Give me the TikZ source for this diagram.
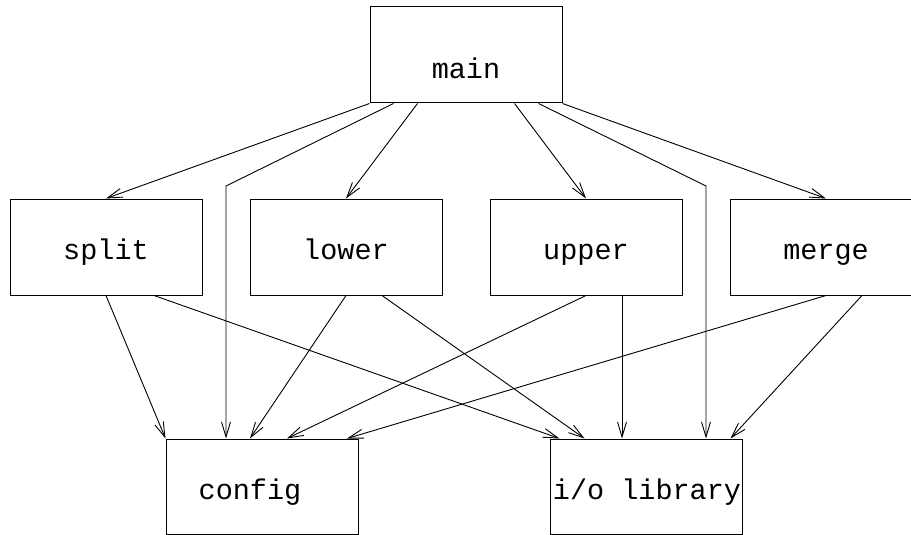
\documentclass[tikz,border=0pt]{standalone}
\usepackage{fontspec}
\setmonofont{Liberation Mono}
\usetikzlibrary{arrows.meta}
\begin{document}
\begin{tikzpicture}[x=1pt,y=-1pt,
  box/.style={draw,line width=1pt,minimum width=192pt,minimum height=96pt,inner sep=0pt},
  lbl/.style={anchor=base,inner sep=0pt,font=\ttfamily\fontsize{28.5}{30}\selectfont},
  conn/.style={line width=0.9pt,-{Straight Barb[length=15pt,width=9pt,line width=0.9pt]}}]
\useasboundingbox (0,0) rectangle (911,535);
% boxes
\node[box] (main)   at (466,55)  {};
\node[box] (split)  at (106,247) {};
\node[box] (lower)  at (346,247) {};
\node[box] (upper)  at (586,247) {};
\node[box] (merge)  at (826,247) {};
\node[box,minimum height=95pt] (config) at (262,486.5) {};
\node[box,minimum height=95pt] (io)     at (646,486.5) {};
% labels
\node[lbl] (tmain)   at (466,79)  {main};
\node[lbl] (tsplit)  at (106,259) {split};
\node[lbl] (tlower)  at (346,259) {lower};
\node[lbl] (tupper)  at (586,259) {upper};
\node[lbl] (tmerge)  at (826,259) {merge};
\node[lbl] (tconfig) at (250,499) {config};
\node[lbl] (tio)     at (647,499) {i/o library};
% bend points
\coordinate (cb) at (226,186);
\coordinate (ib) at (706,186);
% connectors from main
\draw[conn] (main.south west) -- (split.north);
\draw[conn] ([xshift=24pt]main.south west) -- (cb) -- (config.north -| cb);
\draw[conn] ([xshift=48pt]main.south west) -- (lower.north);
\draw[conn] ([xshift=-48pt]main.south east) -- (upper.north);
\draw[conn] ([xshift=-24pt]main.south east) -- (ib) -- (io.north -| ib);
\draw[conn] (main.south east) -- (merge.north);
% connectors from middle row
\draw[conn] (split.south) -- (config.north west);
\draw[conn] ([xshift=48pt]split.south) -- ([xshift=10pt]io.north west);
\draw[conn] (lower.south) -- ([xshift=-12pt]config.north);
\draw[conn] ([xshift=36pt]lower.south) -- ([xshift=35pt]io.north west);
\draw[conn] (upper.south) -- ([xshift=25pt]config.north);
\draw[conn] ([xshift=36pt]upper.south) coordinate (u3) -- (u3 |- io.north);
\draw[conn] (merge.south) -- ([xshift=85pt]config.north);
\draw[conn] ([xshift=36pt]merge.south) -- ([xshift=-12pt]io.north east);
\end{tikzpicture}
\end{document}
